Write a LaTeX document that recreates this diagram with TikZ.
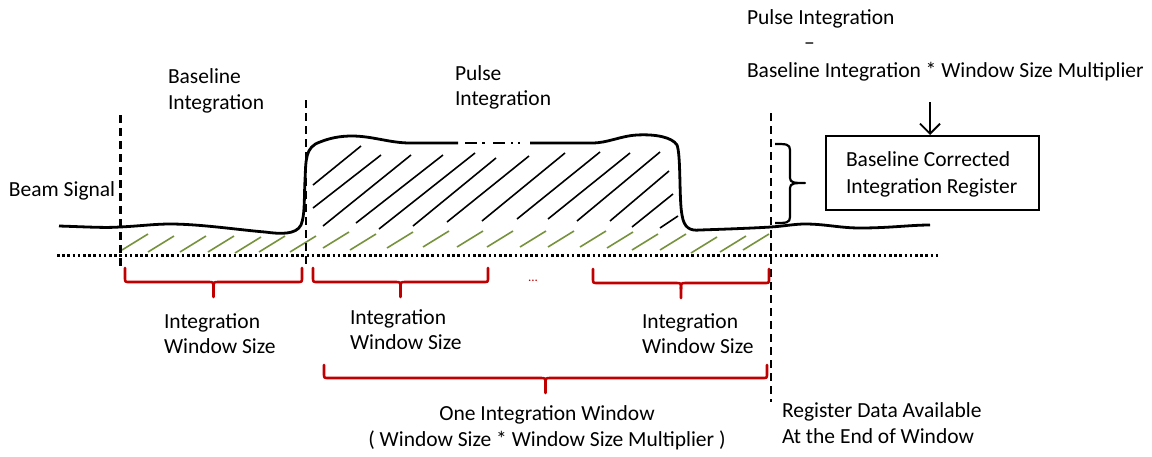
\documentclass[tikz,border=0pt]{standalone}
\usepackage{fontspec}
\setmainfont{Carlito}
\usetikzlibrary{arrows.meta}
\definecolor{bracered}{RGB}{192,0,0}
\definecolor{hatchgreen}{RGB}{118,146,60}
\newcommand{\mybrace}[5]{%
  \draw[redbr] (#1,#3) -- (#1,#4-4) .. controls (#1,#4) .. (#1+5,#4)
    -- ({(#1+#2)/2-5},#4) .. controls ({(#1+#2)/2},#4) .. ({(#1+#2)/2},#4+6) -- ({(#1+#2)/2},#5);
  \draw[redbr] ({(#1+#2)/2},#4+6) .. controls ({(#1+#2)/2},#4) .. ({(#1+#2)/2+5},#4)
    -- (#2-5,#4) .. controls (#2,#4) .. (#2,#4-4) -- (#2,#3);
}
\begin{document}
\begin{tikzpicture}[x=1pt,y=-1pt,
  lbl/.style={inner sep=0pt, outer sep=0pt, font=\fontsize{21.5}{26}\selectfont},
  vdash/.style={line width=2.4pt, dash pattern=on 8pt off 5pt},
  dotline/.style={line width=2.8pt, dash pattern=on 2.6pt off 2.6pt},
  signal/.style={line width=2.8pt},
  blkhatch/.style={line width=1.6pt},
  grnhatch/.style={line width=1.6pt, hatchgreen},
  redbr/.style={line width=2.6pt, bracered, line cap=round, line join=round},
  regbox/.style={draw, line width=2.2pt, minimum width=213pt, minimum height=74pt, inner sep=0pt}
]
\useasboundingbox (0,0) rectangle (1152,456);

% baseline (dotted)
\draw[dotline] (57,255.5) -- (940,255.5);

% green hatches below signal
\foreach \x/\y in {122/250,148/252,180/252,208/252,235/253,259/252,290/252,323/248,350/250,387/248,423/247,457/247,487/247,520/247,548/247,580/247,607/248,632/250,660/250,691/253,720/252,743/250}
  \draw[grnhatch] (\x,\y) -- (\x+26,\y-16);

% black hatches inside pulse
\foreach \a/\b/\c/\d in {313/185/361/146, 313/208/381/155, 323/226/411/155, 356/223/443/155, 379/229/475/153, 413/226/496/158, 447/222/529/156, 482/221/565/153, 517/219/600/152, 548/219/630/153, 577/221/660/152, 610/221/669/171, 632/227/673/194, 660/228/678/216}
  \draw[blkhatch] (\a,\b) -- (\c,\d);

% signal
\draw[signal, line cap=butt] (59,226) .. controls (90,227) and (105,228) .. (120,227)
  .. controls (140,226) and (155,224) .. (170,224)
  .. controls (200,224) and (240,230) .. (265,232)
  .. controls (280,234) and (296,235) .. (301,225)
  .. controls (305,215) and (304,200) .. (305,180)
  .. controls (306,160) and (305,147) .. (320,142)
  .. controls (330,138) and (340,136) .. (352,136)
  .. controls (372,136) and (390,143) .. (410,143) -- (458,143);
\draw[signal, line cap=butt] (465,143) -- (477,143) (482,143) -- (485,143) (493,143) -- (505,143) (511,143) -- (513,143) (518,143) -- (520,143);
\draw[signal, line cap=butt] (530,143) -- (592,143)
  .. controls (608,143) and (620,136) .. (637,135)
  .. controls (655,134) and (672,137) .. (677,145)
  .. controls (681,155) and (679,200) .. (682,215)
  .. controls (684,228) and (690,231) .. (700,230)
  .. controls (730,229) and (755,228) .. (771,227)
  .. controls (785,226) and (795,224) .. (805,224)
  .. controls (825,224) and (840,228) .. (860,228)
  .. controls (890,228) and (910,225) .. (930,225);

% dashed vertical lines
\draw[vdash] (120.5,115) -- (120.5,270);
\draw[vdash] (306,100) -- (306,264);
\draw[vdash] (771,113) -- (771,402);

% black brace at right
\draw[line width=2.2pt, line join=round] (775,144) .. controls (786,144) and (790,144) .. (790,150)
  -- (790,178) .. controls (790,183) and (795,183) .. (805,183)
  .. controls (795,183) and (790,183) .. (790,188)
  -- (790,217) .. controls (790,223) and (786,223) .. (775,223);

% red braces
\mybrace{125}{302}{268}{282}{297}
\mybrace{313}{488}{268}{282}{297}
\mybrace{593}{769}{269}{283}{298}
\mybrace{324}{767}{365}{378}{393}

% texts
\node[lbl, anchor=base west] (bl1) at (168,83) {Baseline};
\node[lbl, anchor=base west] (bl2) at (168,109) {Integration};
\node[lbl, anchor=base west] (pl1) at (455,80) {Pulse};
\node[lbl, anchor=base west] (pl2) at (455,105) {Integration};
\node[lbl, anchor=base west] (beam) at (9,196) {Beam Signal};
\node[lbl, anchor=base west] (pi) at (747,24) {Pulse Integration};
\node[lbl, anchor=base west] (minus) at (804,49) {–};
\node[lbl, anchor=base west] (bi) at (747,77) {Baseline Integration * Window Size Multiplier};

\node[regbox, anchor=north west] (box) at (825,135) {};
\node[lbl, anchor=base west] (bc1) at (846,166) {Baseline Corrected};
\node[lbl, anchor=base west] (bc2) at (846,193) {Integration Register};
\coordinate (arrtop) at (930,102);
\draw[line width=1.9pt, -{Straight Barb[length=10pt, width=20pt, line width=1.9pt]}] (arrtop) -- (box.north -| arrtop);

\node[lbl, anchor=base west] (iw1a) at (164,328) {Integration};
\node[lbl, anchor=base west] (iw1b) at (164,353) {Window Size};
\node[lbl, anchor=base west] (iw2a) at (350,324) {Integration};
\node[lbl, anchor=base west] (iw2b) at (350,349) {Window Size};
\node[lbl, anchor=base west] (iw3a) at (642,328) {Integration};
\node[lbl, anchor=base west] (iw3b) at (642,353) {Window Size};
\node[inner sep=0pt, anchor=base, text=bracered, font=\fontsize{13}{14}\selectfont] (dots) at (533,281) {...};

\node[lbl, anchor=base] (oiw) at (547,420) {One Integration Window};
\node[lbl, anchor=base] (oiw2) at (547,446) {( Window Size * Window Size Multiplier )};
\node[lbl, anchor=base west] (rd1) at (782,417) {Register Data Available};
\node[lbl, anchor=base west] (rd2) at (782,443) {At the End of Window};
\end{tikzpicture}
\end{document}
